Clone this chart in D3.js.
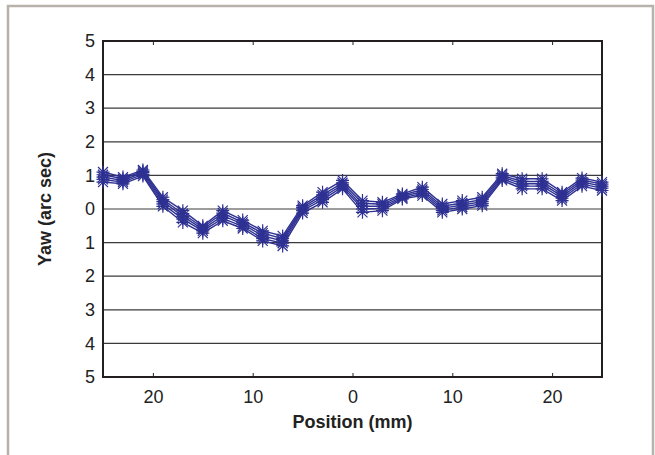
<!DOCTYPE html>
<html><head><meta charset="utf-8">
<script src="https://cdn.jsdelivr.net/npm/d3@7"></script>
<style>html,body{margin:0;padding:0;background:#fff;}svg{display:block;}</style>
</head><body>
<script>
const positions = [-25,-23,-21,-19,-17,-15,-13,-11,-9,-7,-5,-3,-1,1,3,5,7,9,11,13,15,17,19,21,23,25];
const run1 = [1.10,0.95,1.16,0.35,-0.05,-0.50,-0.05,-0.33,-0.65,-0.80,0.10,0.50,0.85,0.25,0.20,0.45,0.65,0.15,0.25,0.35,1.05,0.90,0.90,0.50,0.92,0.80];
const run2 = [1.02,0.90,1.12,0.28,-0.14,-0.55,-0.12,-0.40,-0.72,-0.88,0.05,0.42,0.78,0.17,0.14,0.41,0.58,0.08,0.18,0.28,1.00,0.82,0.82,0.44,0.86,0.74];
const run3 = [0.95,0.85,1.08,0.22,-0.22,-0.60,-0.20,-0.45,-0.80,-0.95,0.00,0.35,0.72,0.08,0.08,0.37,0.52,0.02,0.12,0.22,0.95,0.75,0.75,0.38,0.80,0.68];
const run4 = [0.88,0.80,1.03,0.15,-0.30,-0.65,-0.28,-0.52,-0.88,-1.02,-0.05,0.28,0.66,0.00,0.02,0.33,0.46,-0.04,0.06,0.16,0.90,0.68,0.68,0.32,0.74,0.62];
const run5 = [0.80,0.75,0.98,0.08,-0.40,-0.72,-0.35,-0.58,-0.95,-1.10,-0.12,0.20,0.60,-0.10,-0.05,0.30,0.40,-0.10,0.00,0.10,0.85,0.60,0.60,0.25,0.68,0.55];
const series = [run1, run2, run3, run4, run5];
const xTicks = [-20,-10,0,10,20];
const xTickLabels = ["20","10","0","10","20"];
const yTicks = [-5,-4,-3,-2,-1,0,1,2,3,4,5];
const yTickLabels = ["5","4","3","2","1","0","1","2","3","4","5"];

const W = 655, H = 455;
const svg = d3.select("body").append("svg").attr("width", W).attr("height", H);
svg.append("rect").attr("x", 0).attr("y", 0).attr("width", W).attr("height", H).attr("fill", "#fff");
// outer frame
svg.append("path").attr("d", "M8,460 L8,6 L653,6 L653,460").attr("fill", "none")
  .attr("stroke", "#b7b2aa").attr("stroke-width", 2.5);

const L = 103, R = 602, T = 41, B = 377;
const x = d3.scaleLinear().domain([-25, 25]).range([L, R]);
const y = d3.scaleLinear().domain([-5, 5]).range([B, T]);
const font = "'Liberation Sans', Arial, sans-serif";
const fs = 18;

// gridlines
svg.append("g").selectAll("line").data(yTicks.filter(d => d > -5 && d < 5)).join("line")
  .attr("x1", L).attr("x2", R).attr("y1", d => y(d)).attr("y2", d => y(d))
  .attr("stroke", "#3a3a3a").attr("stroke-width", 1.2);

// axes
const xAxisB = d3.axisBottom(x).tickValues(xTicks).tickFormat((d, i) => xTickLabels[i]).tickSizeInner(-4).tickSizeOuter(0).tickPadding(13);
const gxb = svg.append("g").attr("transform", `translate(0,${B})`).call(xAxisB);
const xAxisT = d3.axisTop(x).tickValues(xTicks).tickFormat("").tickSizeInner(-4).tickSizeOuter(0);
const gxt = svg.append("g").attr("transform", `translate(0,${T})`).call(xAxisT);
const yAxisL = d3.axisLeft(y).tickValues(yTicks).tickFormat((d, i) => yTickLabels[i]).tickSizeInner(0).tickSizeOuter(0).tickPadding(8);
const gyl = svg.append("g").attr("transform", `translate(${L},0)`).call(yAxisL);
[gxb, gxt, gyl].forEach(g => {
  g.select(".domain").remove();
  g.selectAll("line").attr("stroke", "#222").attr("stroke-width", 1);
  g.selectAll("text").attr("font-family", font).attr("font-size", fs).attr("fill", "#222");
});

// frame
svg.append("rect").attr("x", L).attr("y", T).attr("width", R - L).attr("height", B - T)
  .attr("fill", "none").attr("stroke", "#231f20").attr("stroke-width", 2);

// series
const color = "#2e3192";
const line = d3.line().x((d, i) => x(positions[i])).y(d => y(d));
const gS = svg.append("g");
series.forEach(s => {
  gS.append("path").datum(s).attr("d", line).attr("fill", "none").attr("stroke", color).attr("stroke-width", 1.4);
});
const m = 6.5, md = 5;
series.forEach(s => {
  gS.append("g").selectAll("path").data(s).join("path")
    .attr("transform", (d, i) => `translate(${x(positions[i])},${y(d)})`)
    .attr("d", `M${-m},0L${m},0M0,${-m}L0,${m}M${-md},${-md}L${md},${md}M${-md},${md}L${md},${-md}`)
    .attr("stroke", color).attr("stroke-width", 1.2).attr("fill", "none");
});

// titles
svg.append("text").attr("x", (L + R) / 2).attr("y", 428).attr("text-anchor", "middle")
  .attr("font-family", font).attr("font-weight", "bold").attr("font-size", fs).attr("fill", "#222")
  .text("Position (mm)");
svg.append("text").attr("transform", `translate(51,${(T + B) / 2}) rotate(-90)`).attr("text-anchor", "middle")
  .attr("font-family", font).attr("font-weight", "bold").attr("font-size", fs).attr("fill", "#222")
  .text("Yaw (arc sec)");
</script>
</body></html>
